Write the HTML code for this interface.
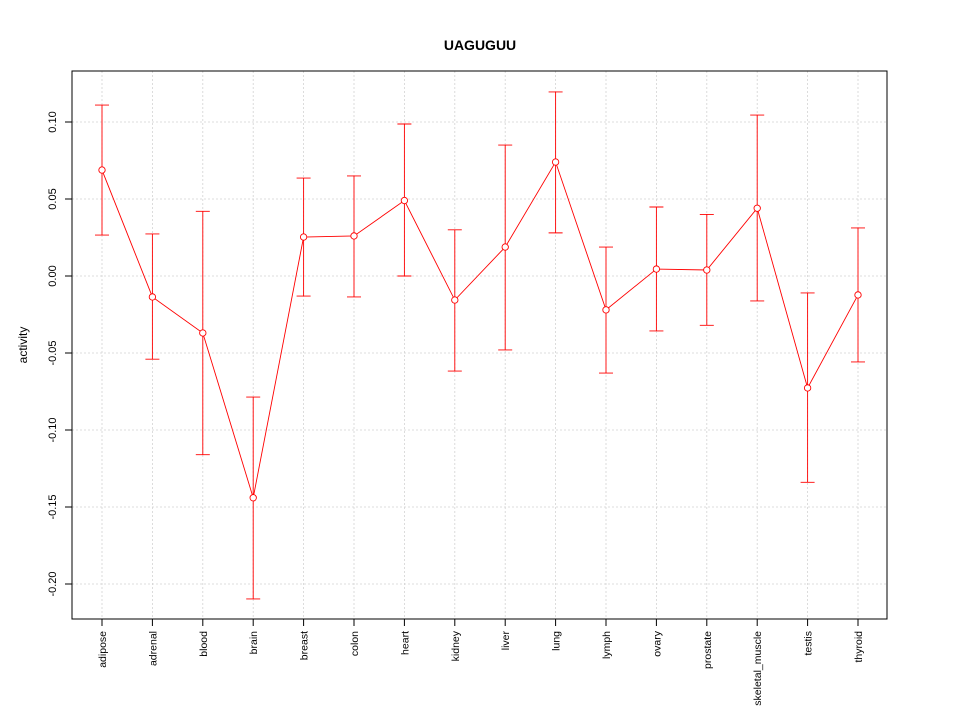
<!DOCTYPE html>
<html><head><meta charset="utf-8"><style>body{margin:0;background:#fff}svg{display:block}</style></head>
<body>
<svg id="chart" width="960" height="720" xmlns="http://www.w3.org/2000/svg" font-family="Liberation Sans, sans-serif">
<rect width="960" height="720" fill="#fff"/>
<text x="480" y="50" text-anchor="middle" font-weight="bold" font-size="14">UAGUGUU</text>
<text transform="translate(27,345) rotate(-90)" text-anchor="middle" font-size="12">activity</text>
<g id="grid"></g>
<g id="yaxis"></g>
<g id="xaxis"></g>
<g id="series"></g>
<rect x="72" y="71" width="815" height="548" fill="none" stroke="#000"/>
</svg>
<script>
const categories=["adipose","adrenal","blood","brain","breast","colon","heart","kidney","liver","lung","lymph","ovary","prostate","skeletal_muscle","testis","thyroid"];
const values=[0.0688,-0.0136,-0.037,-0.144,0.0253,0.026,0.049,-0.0156,0.0188,0.074,-0.022,0.0045,0.0039,0.044,-0.0727,-0.0123];
const upper=[0.111,0.0273,0.042,-0.0786,0.0636,0.065,0.0987,0.030,0.085,0.1195,0.0188,0.0448,0.040,0.1045,-0.011,0.0312];
const lower=[0.0266,-0.054,-0.116,-0.2097,-0.013,-0.0136,0.0,-0.0617,-0.048,0.028,-0.063,-0.0357,-0.032,-0.0162,-0.134,-0.0558];
const yTicks=[-0.20,-0.15,-0.10,-0.05,0.00,0.05,0.10];
const yTickLabels=["-0.20","-0.15","-0.10","-0.05","0.00","0.05","0.10"];
const NS="http://www.w3.org/2000/svg";
const xs=i=>102+i*(858-102)/(categories.length-1);
const ys=v=>276-v*1540;
function mk(tag,attrs,parent){const e=document.createElementNS(NS,tag);for(const k in attrs)e.setAttribute(k,attrs[k]);parent.appendChild(e);return e;}
const grid=document.getElementById('grid'),ya=document.getElementById('yaxis'),xa=document.getElementById('xaxis'),ser=document.getElementById('series');
categories.forEach((c,i)=>{
 const x=xs(i);
 const g=mk('line',{x1:x,x2:x,y1:71,y2:619,stroke:'#d3d3d3','stroke-width':0.8,'stroke-dasharray':'2,2'},grid);
 
 
 const t=mk('line',{x1:x,x2:x,y1:619,y2:626,stroke:'#000'},xa);
 
 
 const l=mk('text',{transform:`translate(${x+4},631) rotate(-90)`,'text-anchor':'end','font-size':'10.5'},xa);
 l.textContent=c;
 
 
});
yTicks.forEach((v,i)=>{
 const y=ys(v);
 const g=mk('line',{x1:72,x2:887,y1:y,y2:y,stroke:'#d3d3d3','stroke-width':0.8,'stroke-dasharray':'2,2'},grid);
 
 
 const t=mk('line',{x1:65,x2:72,y1:y,y2:y,stroke:'#000'},ya);
 
 
 const l=mk('text',{transform:`translate(56,${y}) rotate(-90)`,'text-anchor':'middle','font-size':'11'},ya);
 l.textContent=yTickLabels[i];
 
 
});
categories.forEach((c,i)=>{
 const x=xs(i);
 const eb=mk('path',{d:`M${x},${ys(upper[i])}V${ys(lower[i])}M${x-7},${ys(upper[i])}H${x+7}M${x-7},${ys(lower[i])}H${x+7}`,stroke:'#f00','stroke-width':0.9,fill:'none'},ser);
 
 
});
const pl=mk('polyline',{points:values.map((v,i)=>xs(i)+','+ys(v)).join(' '),fill:'none',stroke:'#f00','stroke-width':0.9},ser);


values.forEach((v,i)=>{
 const p=mk('circle',{cx:xs(i),cy:ys(v),r:3.2,fill:'#fff',stroke:'#f00','stroke-width':0.9},ser);
 
 
});
</script>
</body></html>
